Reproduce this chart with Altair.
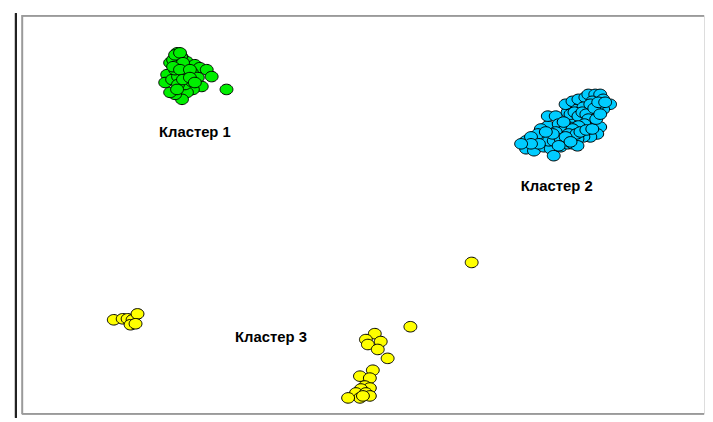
import altair as alt
import pandas as pd

# Cluster 1 (green)
c1_x = [172, 165, 168, 173, 177, 182, 183, 190, 195, 202, 207, 162, 160, 167, 173, 180, 187, 193, 197, 188, 182, 177, 170, 165, 222, 180, 187, 173, 176, 170,
        170, 175, 178, 168, 175, 185, 178, 172, 185, 190]
c1_y = [48, 58, 55, 50, 53, 57, 62, 60, 63, 65, 72, 70, 78, 75, 72, 70, 68, 73, 82, 85, 88, 95, 90, 88, 85, 80, 77, 80, 52, 65,
        50, 48, 58, 62, 65, 65, 75, 85, 73, 78]

# Cluster 2 (blue)
c2_x = [525, 525, 533, 535, 542, 543, 550, 553, 548, 547, 547, 555, 558, 562, 560, 567, 570, 567, 565, 572, 577, 578, 585, 588, 595, 600, 603, 610, 603, 597, 590, 585, 580, 587, 593, 600, 597, 590, 583, 577, 572, 582, 575, 575, 568, 565, 555, 553, 540, 537, 530, 577, 572, 583, 592, 597,
        570, 574, 578, 582, 586, 590, 594, 598, 588, 584, 578, 572, 568, 576, 580, 586, 592, 596, 600, 605, 560, 565, 563, 570, 558, 552, 545, 538, 530, 520]
c2_y = [137, 145, 147, 138, 133, 143, 145, 152, 137, 122, 112, 112, 120, 128, 143, 140, 130, 108, 100, 97, 105, 95, 93, 90, 90, 90, 95, 100, 105, 108, 105, 112, 115, 120, 117, 123, 130, 133, 133, 135, 140, 125, 125, 117, 120, 123, 128, 137, 125, 130, 133, 142, 113, 103, 97, 102,
        110, 108, 112, 108, 110, 100, 104, 98, 115, 120, 122, 125, 130, 130, 128, 126, 125, 115, 110, 98, 135, 133, 118, 138, 142, 130, 128, 140, 140, 140]

# Cluster 3 (yellow)
c3_x = [108, 117, 122, 127, 132, 125, 130, 470, 408, 372, 363, 378, 365, 375, 385, 370, 357, 367, 362, 367, 358, 353, 363, 357, 345, 367, 360]
c3_y = [318, 317, 317, 318, 312, 323, 322, 260, 325, 332, 338, 340, 343, 348, 357, 369, 375, 377, 385, 387, 388, 392, 392, 397, 397, 395, 395]

labels = ["Кластер 1", "Кластер 2", "Кластер 3"]
label_x = [190, 556, 267]
label_y = [128, 183, 335]

colors = ["#00ee00", "#00ccff", "#ffff00"]

rows = []
for name, xs_, ys_ in zip(labels, [c1_x, c2_x, c3_x], [c1_y, c2_y, c3_y]):
    for x, y in zip(xs_, ys_):
        rows.append({"x": x, "y": y, "cluster": name})
points = pd.DataFrame(rows)
lab = pd.DataFrame({"x": label_x, "y": label_y, "label": labels})

W, H = 690, 403
xs = alt.Scale(domain=[15, 705])
ys = alt.Scale(domain=[413, 10])

ellipse = "M-1,0A1,0.82,0,1,1,1,0A1,0.82,0,1,1,-1,0Z"

pts = alt.Chart(points).mark_point(
    shape=ellipse, filled=True, size=169, stroke="black", strokeWidth=1, opacity=1
).encode(
    x=alt.X("x:Q", scale=xs, axis=None),
    y=alt.Y("y:Q", scale=ys, axis=None),
    fill=alt.Fill("cluster:N", scale=alt.Scale(domain=labels, range=colors), legend=None),
)

txt = alt.Chart(lab).mark_text(
    font="Liberation Sans", fontSize=15, fontWeight="bold", color="black", baseline="middle", align="center"
).encode(
    x=alt.X("x:Q", scale=xs, axis=None),
    y=alt.Y("y:Q", scale=ys, axis=None),
    text="label:N",
)

frame_color = "#9a9a9a"
top_line = alt.Chart(lab).mark_rule(color=frame_color, strokeWidth=1.5).encode(
    x=alt.value(0), x2=alt.value(W), y=alt.value(0.5)
)
bottom_line = alt.Chart(lab).mark_rule(color=frame_color, strokeWidth=1.5).encode(
    x=alt.value(0), x2=alt.value(W), y=alt.value(H)
)
left_frame = alt.Chart(lab).mark_rule(color=frame_color, strokeWidth=1.5).encode(
    x=alt.value(0.5), y=alt.value(0), y2=alt.value(H)
)
left_line = alt.Chart(lab).mark_rule(color="#222222", strokeWidth=2).encode(
    x=alt.value(-6), y=alt.value(-2), y2=alt.value(H + 4)
)

chart = alt.layer(pts, txt, top_line, bottom_line, left_frame, left_line).properties(
    width=W, height=H, padding={"left": 7, "top": 2, "right": 0, "bottom": 1}
).configure_view(strokeWidth=0).configure(background="white")

chart.save("out.html", embed_options={"renderer": "svg", "actions": False})
